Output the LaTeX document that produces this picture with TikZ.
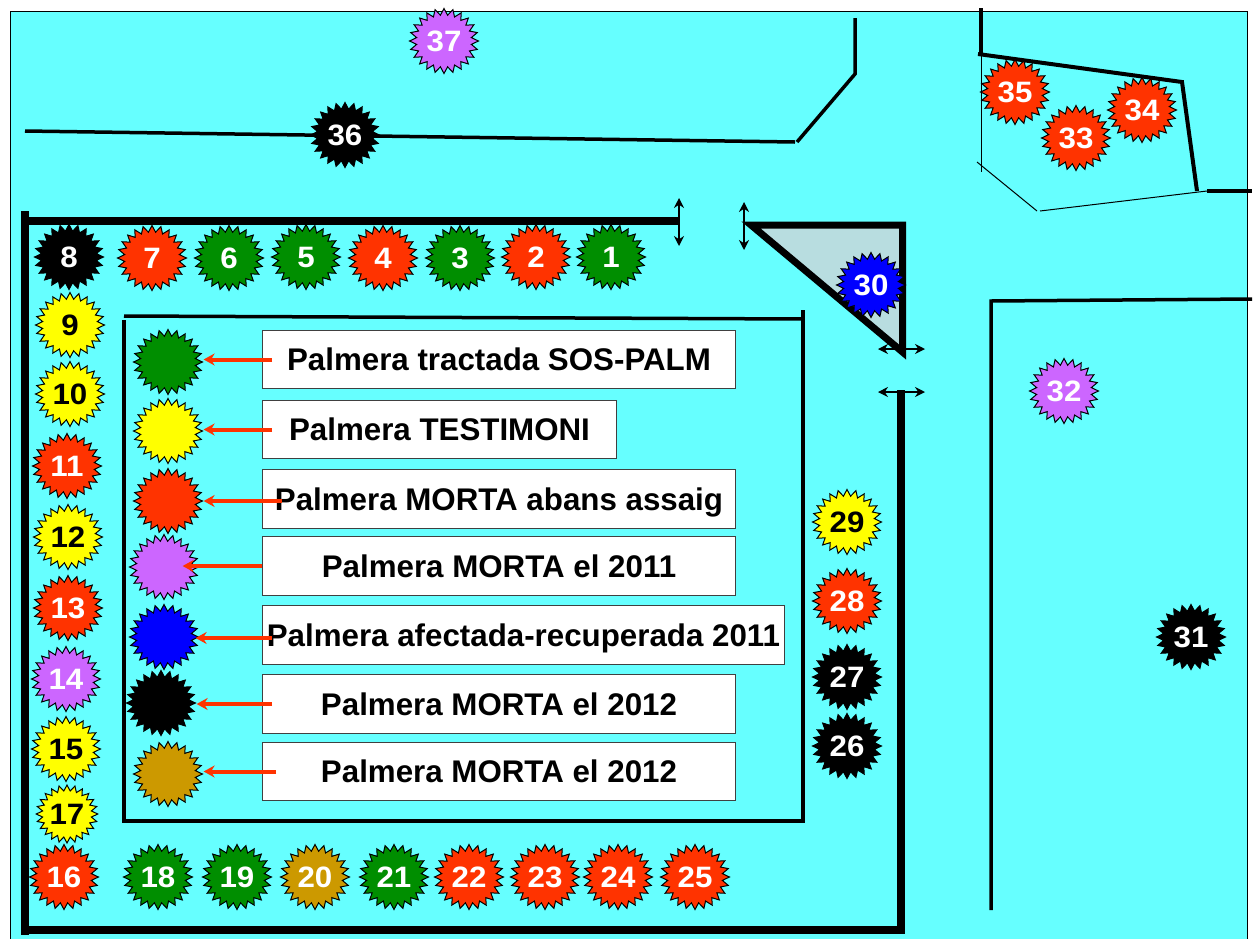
\documentclass[tikz,border=0pt]{standalone}
\usepackage{fontspec}
\setmainfont{Liberation Sans}
\usetikzlibrary{shapes.geometric,arrows.meta}
\definecolor{sea}{HTML}{66FFFF}
\definecolor{palered}{HTML}{FF3300}
\definecolor{palegreen}{HTML}{008E00}
\definecolor{palegold}{HTML}{CC9900}
\definecolor{palepurple}{HTML}{CC66FF}
\definecolor{paleblue}{HTML}{0000FF}
\definecolor{paleyellow}{HTML}{FFFF00}
\definecolor{tri}{HTML}{B8DDE0}
\tikzset{
 palm/.style={star,star points=24,star point ratio=1.25,minimum size=65pt,inner sep=0pt,draw=black,line width=1pt,
   xscale=1.06,transform shape,
   font=\fontsize{29.5}{30}\selectfont\bfseries,text=white},
 rd/.style={palm,fill=palered},
 gr/.style={palm,fill=palegreen},
 bk/.style={palm,fill=black},
 ye/.style={palm,fill=paleyellow,text=black},
 pu/.style={palm,fill=palepurple},
 bl/.style={palm,fill=paleblue},
 go/.style={palm,fill=palegold},
 legendbox/.style={draw=black!75,line width=1pt,fill=white,inner sep=0pt,anchor=north west,
   font=\fontsize{31.3}{32}\selectfont\bfseries,text=black,align=center,text height=23pt,text depth=1pt},
 wall/.style={line width=8pt,black},
 road/.style={line width=3.5pt,black},
 thinline/.style={line width=1pt,black},
 gate/.style={line width=1.2pt,black,{Stealth[length=10pt,width=10pt]}-{Stealth[length=10pt,width=10pt]}},
 redarrow/.style={line width=4pt,palered,-{Stealth[length=11pt,width=12pt]}},
}
\begin{document}
\begin{tikzpicture}[x=1pt,y=-1pt]
\useasboundingbox (0,0) rectangle (1256,938);
\filldraw[fill=sea,draw=black,line width=1pt] (10,11) rectangle (1247,940);
% roads
\draw[road] (25,131) -- (795,142);
\draw[road,line join=miter] (797,142) -- (855,74) -- (855,18);
\draw[road,line width=4pt] (981,8) -- (981,54);
\draw[road,line width=4pt] (978,54) -- (1182,82) -- (1197,191);
\draw[road,line width=4pt] (1207,191) -- (1252,191);
\draw[thinline] (981,54) -- (981,172);
\draw[thinline] (977,162) -- (1037,211);
\draw[thinline] (1040,211) -- (1207,191);
\draw[road] (991,910) -- (991,301) -- (1252,299);
% walls
\draw[wall] (25,211) -- (25,935);
\draw[wall] (21,221) -- (680,221);
\draw[wall] (21,930) -- (905,930);
\draw[wall] (901,390) -- (901,930);
\filldraw[fill=tri,draw=black,line width=7pt,line join=miter] (751,225) -- (902.5,225) -- (902.5,352) -- cycle;
% inner enclosure
\draw[road] (124,316) -- (803,319);
\draw[road,line width=4pt] (124,320) -- (124,821) -- (805,821);
\draw[road,line width=4pt] (803,310) -- (803,821);
% gates
\coordinate (g1a) at (679,198); \coordinate (g1b) at (679,246);
\coordinate (g2a) at (744,202); \coordinate (g2b) at (744,250);
\coordinate (g3a) at (878,349); \coordinate (g3b) at (925,349);
\coordinate (g4a) at (878,392); \coordinate (g4b) at (925,392);
\draw[gate] (g1a) -- (g1b);
\draw[gate] (g2a) -- (g2b);
\draw[gate] (g3a) -- (g3b);
\draw[gate] (g4a) -- (g4b);
% numbered palms
\foreach \n/\s/\x/\y in {
 1/gr/611/257,2/rd/536/257,3/gr/460/258,4/rd/383/258,5/gr/306/257,6/gr/229/258,7/rd/152/258,8/bk/69/257,
 9/ye/70/325,10/ye/70/394,11/rd/67/466,12/ye/68/537,13/rd/68/608,14/pu/66/679,15/ye/66/749,16/rd/64/877,
 18/gr/158/877,19/gr/237/877,20/go/315/877,21/gr/394/877,22/rd/469/877,23/rd/545/877,24/rd/618/877,25/rd/695/877,
 26/bk/847/746,27/bk/847/677,28/rd/847/601,29/ye/847/522,30/bl/871/285,31/bk/1191/637,32/pu/1064/391,
 33/rd/1076/138,34/rd/1142/110,35/rd/1015/92,36/bk/345/135,37/pu/444/41}
 {\node[\s] (p\n) at (\x,\y) {\n};}
\node[ye,minimum size=55pt] (p17) at (67,814) {17};
% legend
\node[gr] (k1) at (168,362) {};
\node[ye] (k2) at (168,431) {};
\node[rd] (k3) at (168,501) {};
\node[pu] (k4) at (164,567) {};
\node[bl] (k5) at (164,637) {};
\node[bk] (k6) at (161,703) {};
\node[go] (k7) at (168,774) {};
\node[legendbox,minimum width=473pt,minimum height=58pt] (b1) at (262,330) {Palmera tractada SOS-PALM};
\node[legendbox,minimum width=354pt,minimum height=58pt] (b2) at (262,400) {Palmera TESTIMONI};
\node[legendbox,minimum width=473pt,minimum height=59pt] (b3) at (262,469) {Palmera MORTA abans assaig};
\node[legendbox,minimum width=473pt,minimum height=59pt] (b4) at (262,536) {Palmera MORTA el 2011};
\node[legendbox,minimum width=522pt,minimum height=59pt] (b5) at (262,605) {Palmera afectada-recuperada 2011};
\node[legendbox,minimum width=473pt,minimum height=59pt] (b6) at (262,674) {Palmera MORTA el 2012};
\node[legendbox,minimum width=473pt,minimum height=58pt] (b7) at (262,742) {Palmera MORTA el 2012};
\draw[redarrow] ([xshift=10pt]b1.west) -- (k1.east |- b1.west);
\draw[redarrow] ([xshift=10pt]b2.west) -- (k2.east |- b2.west);
\draw[redarrow] ([xshift=20pt,yshift=-2pt]b3.west) -- ([yshift=-2pt]k3.east |- b3.west);
\draw[redarrow] (b4.west) -- ([xshift=-17pt]k4.east |- b4.west);
\draw[redarrow] ([xshift=10pt,yshift=-3pt]b5.west) -- ([xshift=-4pt,yshift=-3pt]k5.east |- b5.west);
\draw[redarrow] ([xshift=10pt]b6.west) -- (k6.east |- b6.west);
\draw[redarrow] ([xshift=14pt]b7.west) -- (k7.east |- b7.west);
\end{tikzpicture}
\end{document}
